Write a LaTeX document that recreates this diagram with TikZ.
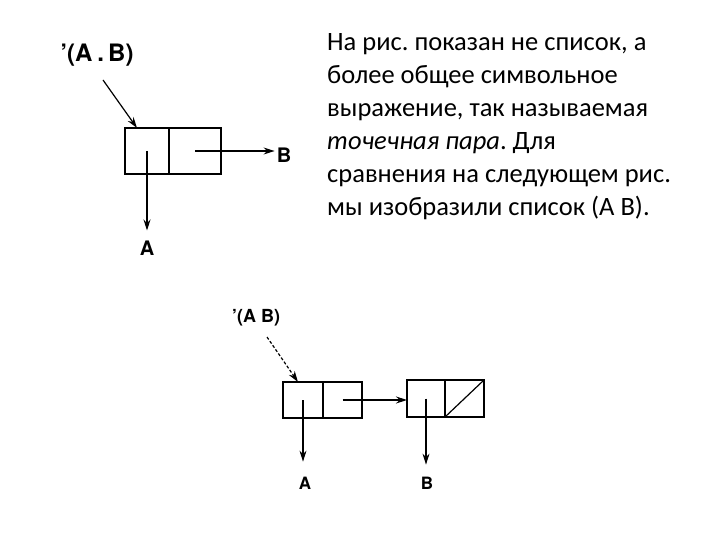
\documentclass[tikz,border=0pt]{standalone}
\usepackage{fontspec}
\setmainfont{Carlito}
\newfontfamily\lblfont[Ligatures=TeX]{TeX Gyre Heros}
\usetikzlibrary{arrows.meta, positioning}

\begin{document}
\frenchspacing
\begin{tikzpicture}[x=1pt, y=-1pt]
        \tikzstyle{cell} = [rectangle, draw=black, line width=1.8pt, inner sep=0pt, outer sep=0pt]
        \tikzstyle{lbl} = [font=\lblfont\bfseries\fontsize{20}{22}\selectfont, inner sep=2pt]
        \tikzstyle{arrow} = [line width=1.2pt,-{Stealth[length=11pt,width=7pt]}]
        \tikzstyle{dasharrow} = [arrow, densely dashed]

        \useasboundingbox (0,0) rectangle (720,540);

        \node (txt) [anchor=north west, align=left, inner sep=0pt, font=\fontsize{26.5}{33}\selectfont] at (327,33)
            {На рис. показан не список, а\\более общее символьное\\выражение, так называемая\\\textit{точечная пара}. Для\\сравнения на следующем рис.\\мы изобразили список (А В).};

        \node (car1) [cell, minimum width=44pt, minimum height=46pt] at (147,151) {};
        \node (cdr1) [cell, minimum width=52pt, minimum height=46pt, right=0pt of car1] {};
        \node (q1) [lbl, font=\lblfont\bfseries\fontsize{24}{26}\selectfont] at (97,55) {'(A\hspace{5pt}.\hspace{4pt}B)};
        \node (a1) [lbl] at (147,248) {A};
        \node (b1) [lbl] at (284,155) {B};
        \coordinate (p1) at (103,80);

        \node (car2) [cell, minimum width=40pt, minimum height=36pt] at (303,400) {};
        \node (cdr2) [cell, minimum width=39pt, minimum height=36pt, right=0pt of car2] {};
        \node (car3) [cell, minimum width=38pt, minimum height=37pt] at (426,398.5) {};
        \node (cdr3) [cell, minimum width=39pt, minimum height=37pt, right=0pt of car3] {};
        \node (q2) [lbl, font=\lblfont\bfseries\fontsize{18}{20}\selectfont] at (256,318) {'(A B)};
        \node (a2) [lbl, font=\lblfont\bfseries\fontsize{17}{18}\selectfont] at (305,483) {A};
        \node (b2) [lbl, font=\lblfont\bfseries\fontsize{17}{18}\selectfont] at (427,483) {B};
        \coordinate (p2) at (267,337);

        \draw [arrow] (p1) -- ([xshift=-10pt]car1.north);
        \draw [arrow, shorten >=8pt] (car1.center) -- (car1.center |- a1.north);
        \draw [arrow] (cdr1.center) -- (cdr1.center -| b1.west);

        \draw [dasharrow] (p2) -- ([xshift=-5pt]car2.north);
        \draw [arrow, shorten >=13pt] (car2.center) -- (car2.center |- a2.north);
        \draw [arrow] (cdr2.center) -- (cdr2.center -| car3.west);
        \draw [arrow, shorten >=10pt] (car3.center) -- (car3.center |- b2.north);
        \draw [line width=1.2pt] (cdr3.south west) -- (cdr3.north east);
    \end{tikzpicture}
\end{document}
